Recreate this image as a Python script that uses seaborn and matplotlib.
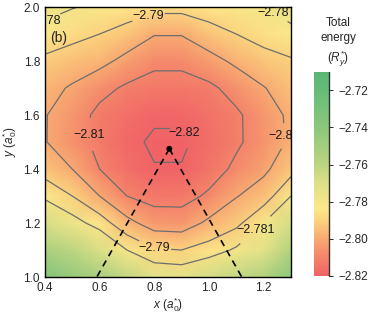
import numpy as np
import matplotlib
matplotlib.use("Agg")
import matplotlib.pyplot as plt
import seaborn as sns
from matplotlib.colors import LinearSegmentedColormap
from matplotlib.ticker import MultipleLocator

# grid of the energy surface (rows: y, columns: x)
x_vals = [0.4, 0.5, 0.6, 0.7, 0.8, 0.9, 1.0, 1.1, 1.2, 1.3]
y_vals = [1.0, 1.1, 1.2, 1.3, 1.4, 1.5, 1.6, 1.7, 1.8, 1.9, 2.0]
energy = [
    [-2.736, -2.744, -2.752, -2.762, -2.772, -2.7735, -2.768, -2.762, -2.755, -2.740],
    [-2.753, -2.760, -2.769, -2.781, -2.789, -2.790, -2.786, -2.7795, -2.773, -2.756],
    [-2.768, -2.777, -2.785, -2.797, -2.8045, -2.805, -2.798, -2.7925, -2.781, -2.768],
    [-2.783, -2.790, -2.800, -2.810, -2.8135, -2.8135, -2.8085, -2.8005, -2.795, -2.781],
    [-2.794, -2.800, -2.810, -2.816, -2.8195, -2.8195, -2.8145, -2.808, -2.802, -2.7935],
    [-2.7995, -2.806, -2.8125, -2.8175, -2.8215, -2.8215, -2.8165, -2.8115, -2.8055, -2.7985],
    [-2.7995, -2.805, -2.8125, -2.816, -2.8185, -2.8185, -2.815, -2.8115, -2.805, -2.798],
    [-2.797, -2.801, -2.807, -2.8115, -2.8135, -2.8135, -2.812, -2.8065, -2.8005, -2.795],
    [-2.792, -2.795, -2.797, -2.803, -2.808, -2.808, -2.8035, -2.798, -2.7935, -2.791],
    [-2.784, -2.787, -2.790, -2.7935, -2.7995, -2.7995, -2.794, -2.790, -2.7865, -2.7835],
    [-2.776, -2.7795, -2.782, -2.785, -2.787, -2.787, -2.785, -2.7825, -2.780, -2.7745],
]

levels_main = [-2.82, -2.81, -2.80, -2.79]
level_low = -2.781
level_high = -2.78

# minimum and the two dashed paths
min_x, min_y = 0.855, 1.475
left_path_x = [0.855, 0.59]
left_path_y = [1.475, 1.0]
right_path_x = [0.855, 1.12]
right_path_y = [1.475, 1.0]

cbar_ticks = [-2.82, -2.80, -2.78, -2.76, -2.74, -2.72]

sns.set_style("ticks")
plt.rcParams["font.family"] = ["Liberation Sans", "DejaVu Sans"]
plt.rcParams["mathtext.fontset"] = "custom"
plt.rcParams["mathtext.rm"] = "Liberation Sans"
plt.rcParams["mathtext.it"] = "Liberation Sans:italic"

X, Y = np.meshgrid(x_vals, y_vals)
Z = np.array(energy)

vmin, vmax = -2.82, -2.71
nodes = [(-2.82, "#f06266"), (-2.81, "#f4846a"), (-2.80, "#f8aa72"),
         (-2.79, "#fbd47e"), (-2.784, "#fde88a"), (-2.77, "#dde087"),
         (-2.76, "#bcd581"), (-2.74, "#8cc77b"), (-2.72, "#66bc77"),
         (-2.71, "#58b775")]
cmap = LinearSegmentedColormap.from_list(
    "energy", [((v - vmin) / (vmax - vmin), c) for v, c in nodes])

fig = plt.figure(figsize=(3.74, 3.15), dpi=100)
ax = fig.add_axes([0.120, 0.1206, 0.658, 0.857])
cax = fig.add_axes([0.8396, 0.124, 0.040, 0.648])

mesh = ax.pcolormesh(X, Y, Z, cmap=cmap, vmin=vmin, vmax=vmax, shading="gouraud")

line_col = "#6e6e6e"
lab_kw = dict(inline=True, inline_spacing=1, fontsize=9, colors="#1a1a1a")

cs = ax.contour(X, Y, Z, levels=levels_main, colors=line_col, linewidths=0.9,
                linestyles="solid")
t1 = ax.clabel(cs, fmt={-2.82: "\u22122.82", -2.81: "\u22122.81", -2.80: "\u22122.8", -2.79: "\u22122.79"},
               manual=[(0.906, 1.53), (0.58, 1.526), (1.267, 1.52), (0.78, 1.963), (0.80, 1.10)],
               **lab_kw)

Z_low = np.ma.masked_where(Y > 1.55, Z)
cs_low = ax.contour(X, Y, Z_low, levels=[level_low], colors=line_col, linewidths=0.9,
                    linestyles="solid")
t2 = ax.clabel(cs_low, fmt={level_low: "\u22122.781"}, manual=[(1.17, 1.174)], **lab_kw)

Z_high = np.ma.masked_where(Y < 1.55, Z)
cs_high = ax.contour(X, Y, Z_high, levels=[level_high], colors=line_col, linewidths=0.9,
                     linestyles="solid")
t3 = ax.clabel(cs_high, fmt={level_high: "\u22122.78"}, manual=[(0.40, 1.94), (1.23, 1.97)],
               **lab_kw)

for t in list(t1) + list(t2) + list(t3):
    t.set_rotation(0)
    if t.get_text() == "\u22122.8":
        t.set_x(1.262)

sns.lineplot(x=left_path_x, y=left_path_y, ax=ax, color="black", sort=False,
             linestyle=(0, (4, 3)), linewidth=1.2)
sns.lineplot(x=right_path_x, y=right_path_y, ax=ax, color="black", sort=False,
             linestyle=(0, (4, 3)), linewidth=1.2)
sns.scatterplot(x=[min_x], y=[min_y], ax=ax, color="black", s=18, zorder=5, edgecolor="none")

ax.text(0.42, 1.885, "(b)", fontsize=10, va="center", ha="left")

ax.set_xlim(0.4, 1.3)
ax.set_ylim(1.0, 2.0)
ax.xaxis.set_major_locator(MultipleLocator(0.2))
ax.xaxis.set_minor_locator(MultipleLocator(0.05))
ax.yaxis.set_major_locator(MultipleLocator(0.2))
ax.yaxis.set_minor_locator(MultipleLocator(0.05))
ax.tick_params(which="both", direction="in", top=True, right=True, labelsize=8.5)
ax.tick_params(which="major", length=4, width=0.8)
ax.tick_params(which="minor", length=2, width=0.6)
for s in ax.spines.values():
    s.set_linewidth(1.0)
    s.set_color("black")
ax.set_xlabel("$x$ ($a_0^{*}$)", fontsize=8.5, labelpad=1)
ax.set_ylabel("$y$ ($a_0^{*}$)", fontsize=8.5, labelpad=3)

cbar = fig.colorbar(mesh, cax=cax)
cbar.set_ticks(cbar_ticks)
cbar.outline.set_visible(False)
cax.tick_params(direction="out", length=3, width=0.7, labelsize=8.5)
cax.plot([1, 1], [0, 1], transform=cax.transAxes, color="#333333", lw=1, clip_on=False)

fig.text(338 / 374, 1 - 17 / 315, "Total\nenergy\n($R_y^{*}$)", ha="center", va="top",
         fontsize=8.5, linespacing=1.35)

fig.savefig("out.png", dpi=100)
